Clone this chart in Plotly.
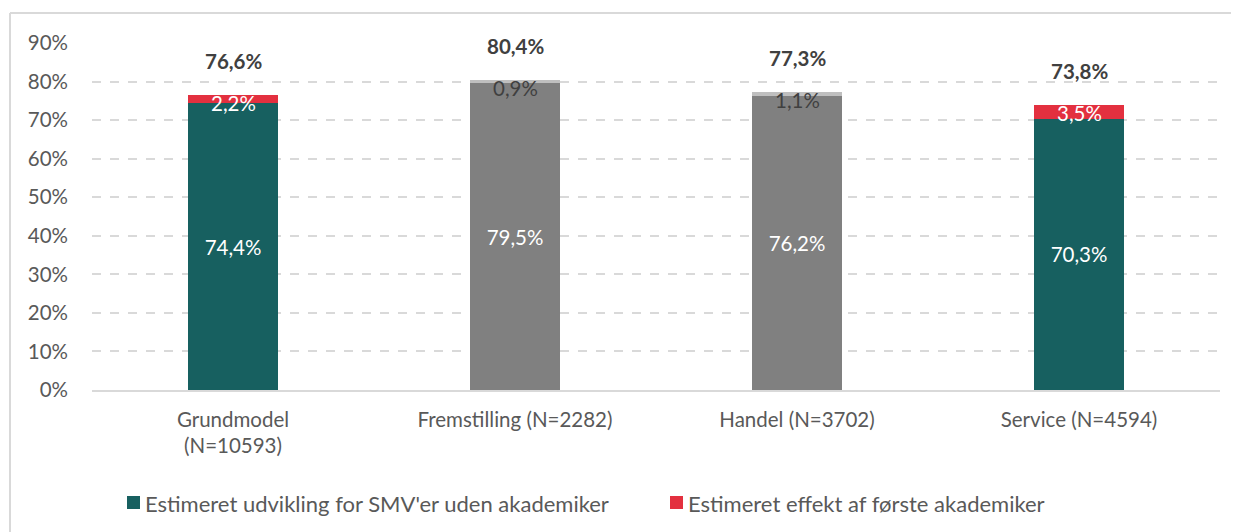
import plotly.graph_objects as go

categories = ["Grundmodel<br>(N=10593)", "Fremstilling (N=2282)", "Handel (N=3702)", "Service (N=4594)"]
base_values = [74.4, 79.5, 76.2, 70.3]
effect_values = [2.2, 0.9, 1.1, 3.5]
total_values = [76.6, 80.4, 77.3, 73.8]
base_colors = ["#176060", "#808080", "#808080", "#176060"]
effect_colors = ["#E3303F", "#BFBFBF", "#BFBFBF", "#E3303F"]
effect_text_colors = ["white", "#404040", "#404040", "white"]
series_names = ["Estimeret udvikling for SMV'er uden akademiker", "Estimeret effekt af første akademiker"]
legend_colors = ["#176060", "#E3303F"]

def fmt(v):
    return f"{v:.1f}".replace(".", ",") + "%"

FONT = "Lato"
FS = 20.5
LFS = 22
# plot area in page pixels: x 92..1220, y 43..390 (page has 8px body margin)
PX0, PX1, PY0, PY1 = 92, 1220, 43, 390

def px(x):
    return (x - PX0) / (PX1 - PX0)

def py(y):
    return (PY1 - y) / (PY1 - PY0)

fig = go.Figure()
fig.add_trace(go.Bar(
    x=categories, y=base_values, name=series_names[0],
    marker=dict(color=base_colors, line=dict(width=0)),
    text=[fmt(v) for v in base_values], textposition="inside",
    insidetextanchor="middle", textfont=dict(color="white", size=FS, family=FONT),
    hoverinfo="skip", showlegend=False,
))
fig.add_trace(go.Bar(
    x=categories, y=effect_values, name=series_names[1],
    marker=dict(color=effect_colors, line=dict(width=0)),
    hoverinfo="skip", showlegend=False,
))

for c, e, t, col in zip(categories, effect_values, total_values, effect_text_colors):
    fig.add_annotation(x=c, y=t, text=fmt(e), showarrow=False, yanchor="top", yshift=6,
                       font=dict(color=col, size=FS, family=FONT))
    fig.add_annotation(x=c, y=t, text="<b>" + fmt(t) + "</b>", showarrow=False, yanchor="bottom",
                       yshift=20, font=dict(color="#404040", size=FS, family=FONT))

# manual legend
legend_x = [127, 670]
for lx, name, col in zip(legend_x, series_names, legend_colors):
    fig.add_shape(type="rect", xref="paper", yref="paper",
                  x0=px(lx), x1=px(lx + 13), y0=py(509), y1=py(496),
                  fillcolor=col, line=dict(width=0))
    fig.add_annotation(xref="paper", yref="paper", x=px(lx + 16), y=py(503), text=name,
                       showarrow=False, xanchor="left", yanchor="middle",
                       font=dict(color="#595959", size=LFS, family=FONT))

# frame lines (top and left)
fig.add_shape(type="line", xref="paper", yref="paper", x0=px(10), x1=px(1245), y0=py(13), y1=py(13),
              line=dict(color="#D9D9D9", width=2))
fig.add_shape(type="line", xref="paper", yref="paper", x0=px(10), x1=px(10), y0=py(13), y1=py(560),
              line=dict(color="#D9D9D9", width=2))

fig.update_layout(
    barmode="stack", bargap=0.684,
    width=1239, height=532,
    margin=dict(l=PX0 - 8, r=1239 + 8 - PX1, t=PY0 - 8, b=532 + 8 - PY1),
    plot_bgcolor="white", paper_bgcolor="white",
    font=dict(family=FONT, size=FS, color="#595959"),
    showlegend=False,
    xaxis=dict(showgrid=False, showline=True, linecolor="#D9D9D9", linewidth=2,
               tickfont=dict(size=FS, color="#595959"), ticks="", ticklabelstandoff=10),
    yaxis=dict(range=[0, 90], dtick=10, ticksuffix="%", showgrid=True,
               gridcolor="#D9D9D9", griddash="dash", gridwidth=1.5,
               zeroline=False, showline=False, ticks="", ticklabelstandoff=23,
               tickfont=dict(size=FS, color="#595959")),
)
fig.write_html("out.html")
